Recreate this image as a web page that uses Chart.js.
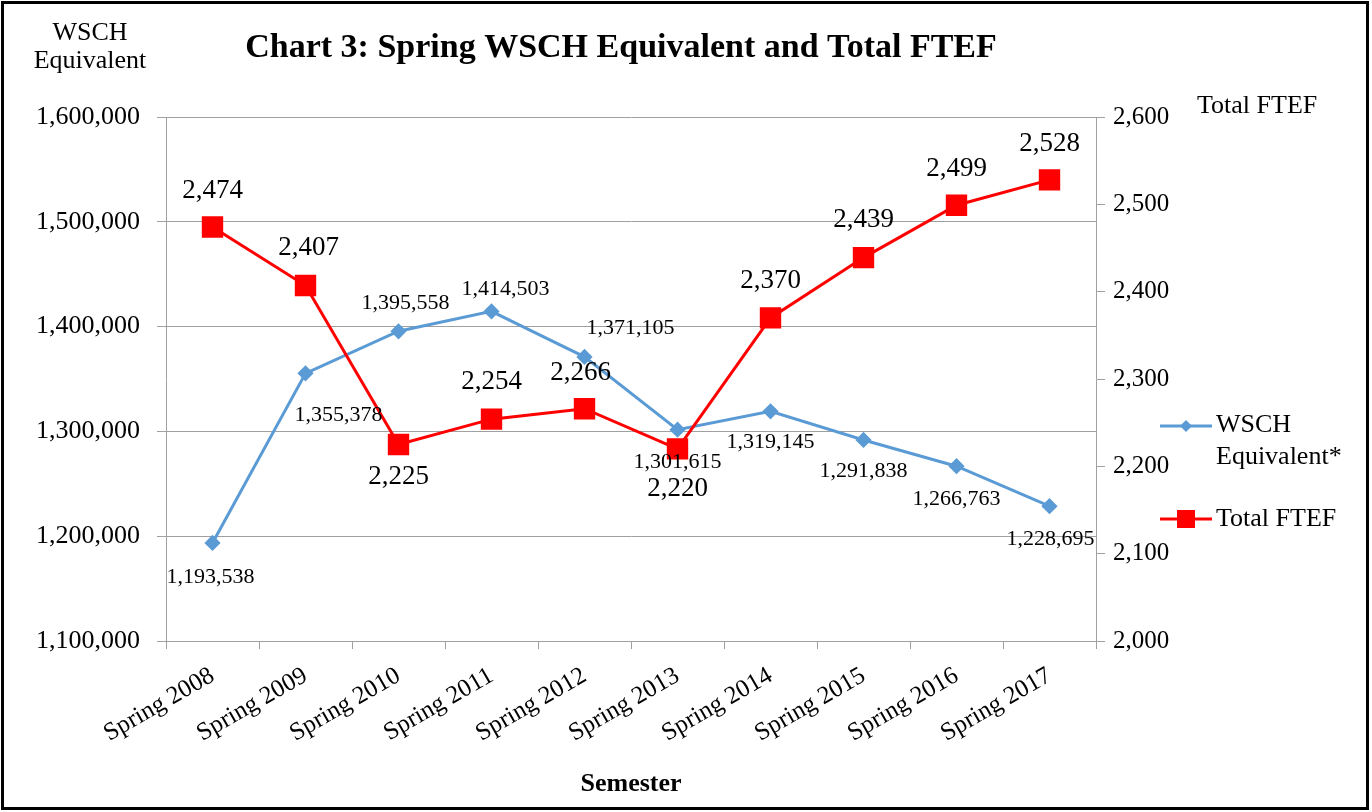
<!DOCTYPE html>
<html>
<head>
<meta charset="utf-8">
<script src="https://cdn.jsdelivr.net/npm/chart.js@4/dist/chart.umd.min.js"></script>
<style>
  html, body { margin: 0; padding: 0; background: #fff; }
  #wrap { position: absolute; left: 0; top: 0; width: 1372px; height: 812px; }
</style>
</head>
<body>
<div id="wrap"><canvas id="chart" width="1372" height="812"></canvas></div>
<script>
const semesters = ['Spring 2008', 'Spring 2009', 'Spring 2010', 'Spring 2011', 'Spring 2012',
  'Spring 2013', 'Spring 2014', 'Spring 2015', 'Spring 2016', 'Spring 2017']
const wschValues = [1193538, 1355378, 1395558, 1414503, 1371105, 1301615, 1319145, 1291838, 1266763, 1228695]
const ftefValues = [2474, 2407, 2225, 2254, 2266, 2220, 2370, 2439, 2499, 2528]
const wschTicks = [1100000, 1200000, 1300000, 1400000, 1500000, 1600000]
const ftefTicks = [2000, 2100, 2200, 2300, 2400, 2500, 2600]

const serif = "'Liberation Serif', 'Times New Roman', serif"
const blue = '#5b9bd5'
const red = '#ff0000'
const gridColor = '#a0a0a0'

// where each value label sits relative to its point (px)
const wschLabelOffsets = [[-2, 34], [33, 42], [7, -28], [14, -22], [46, -29], [0, 33], [0, 31], [0, 31], [0, 33], [1, 33]]
const ftefLabelOffsets = [[0, -36], [3, -38], [0, 32], [0, -37], [-4, -36], [0, 40], [0, -37], [0, -38], [0, -36], [0, -36]]

const fmt = v => v.toLocaleString('en-US')

const decorations = {
  id: 'decorations',
  beforeDraw(chart) {
    const ctx = chart.ctx
    ctx.save()
    ctx.fillStyle = '#fff'
    ctx.fillRect(0, 0, chart.width, chart.height)
    ctx.restore()
  },
  afterDatasetsDraw(chart) {
    const ctx = chart.ctx
    ctx.save()
    ctx.fillStyle = '#000'
    ctx.textAlign = 'center'
    ctx.textBaseline = 'middle'
    const wMeta = chart.getDatasetMeta(1)
    ctx.font = `22px ${serif}`
    wMeta.data.forEach((pt, i) => {
      const o = wschLabelOffsets[i]
      ctx.fillText(fmt(wschValues[i]), pt.x + o[0], pt.y + o[1])
    })
    const fMeta = chart.getDatasetMeta(0)
    ctx.font = `27px ${serif}`
    fMeta.data.forEach((pt, i) => {
      const o = ftefLabelOffsets[i]
      ctx.fillText(fmt(ftefValues[i]), pt.x + o[0], pt.y + o[1])
    })
    ctx.restore()
  },
  afterDraw(chart) {
    const ctx = chart.ctx
    ctx.save()
    ctx.fillStyle = '#000'
    ctx.textBaseline = 'middle'
    ctx.textAlign = 'center'
    ctx.font = `bold 34px ${serif}`
    ctx.fillText('Chart 3: Spring WSCH Equivalent and Total FTEF', 621, 48)
    ctx.font = `26px ${serif}`
    ctx.fillText('WSCH', 90, 33)
    ctx.fillText('Equivalent', 90, 61)
    ctx.textAlign = 'left'
    ctx.fillText('Total FTEF', 1197, 106)

    // legend
    ctx.strokeStyle = blue
    ctx.lineWidth = 3
    ctx.beginPath(); ctx.moveTo(1160, 426); ctx.lineTo(1212, 426); ctx.stroke()
    ctx.fillStyle = blue
    ctx.beginPath()
    ctx.moveTo(1186, 420); ctx.lineTo(1192, 426); ctx.lineTo(1186, 432); ctx.lineTo(1180, 426)
    ctx.closePath(); ctx.fill()
    ctx.fillStyle = '#000'
    ctx.fillText('WSCH', 1216, 425)
    ctx.fillText('Equivalent*', 1216, 457)
    ctx.strokeStyle = red
    ctx.beginPath(); ctx.moveTo(1160, 519); ctx.lineTo(1212, 519); ctx.stroke()
    ctx.fillStyle = red
    ctx.fillRect(1177, 510, 18, 18)
    ctx.fillStyle = '#000'
    ctx.fillText('Total FTEF', 1216, 519)

    // frame
    ctx.strokeStyle = '#000'
    ctx.lineWidth = 3
    ctx.strokeRect(2.5, 2.5, 1365, 806)
    ctx.restore()
  }
}

new Chart(document.getElementById('chart'), {
  type: 'line',
  data: {
    labels: semesters,
    datasets: [
      {
        label: 'Total FTEF',
        data: ftefValues,
        yAxisID: 'y1',
        borderColor: red,
        backgroundColor: red,
        borderWidth: 3,
        pointStyle: 'rect',
        pointRadius: 13,
        pointHoverRadius: 13,
        tension: 0,
        order: 0
      },
      {
        label: 'WSCH Equivalent*',
        data: wschValues,
        yAxisID: 'y',
        borderColor: blue,
        backgroundColor: blue,
        borderWidth: 3,
        pointStyle: 'rectRot',
        pointRadius: 6,
        pointHoverRadius: 6,
        tension: 0,
        order: 1
      }
    ]
  },
  options: {
    responsive: false,
    animation: false,
    devicePixelRatio: 1,
    layout: { padding: { top: 117, left: 0, right: 0, bottom: 0 } },
    plugins: {
      legend: { display: false },
      tooltip: { enabled: false }
    },
    scales: {
      x: {
        offset: true,
        grid: { offset: true, drawOnChartArea: false, color: gridColor, tickLength: 8 },
        border: { color: gridColor, width: 1 },
        ticks: {
          minRotation: 30, maxRotation: 30,
          color: '#000', padding: 12,
          font: { family: serif, size: 25 }
        },
        title: {
          display: true, text: 'Semester', color: '#000',
          font: { family: serif, size: 26, weight: 'bold' },
          padding: { top: 0, bottom: 12 }
        },
        afterFit: s => { s.height = 171 }
      },
      y: {
        position: 'left',
        min: wschTicks[0], max: wschTicks[wschTicks.length - 1],
        afterBuildTicks: s => { s.ticks = wschTicks.map(v => ({ value: v })) },
        grid: { color: gridColor, tickLength: 9 },
        border: { color: gridColor, width: 1 },
        ticks: { color: '#000', padding: 17, font: { family: serif, size: 26 }, callback: v => fmt(v) },
        afterFit: s => { s.width = 166 }
      },
      y1: {
        position: 'right',
        min: ftefTicks[0], max: ftefTicks[ftefTicks.length - 1],
        afterBuildTicks: s => { s.ticks = ftefTicks.map(v => ({ value: v })) },
        grid: { drawOnChartArea: false, color: gridColor, tickLength: 9 },
        border: { color: gridColor, width: 1 },
        ticks: { color: '#000', padding: 8, font: { family: serif, size: 25 }, callback: v => fmt(v) },
        afterFit: s => { s.width = 276 }
      }
    }
  },
  plugins: [decorations]
})
</script>
</body>
</html>
